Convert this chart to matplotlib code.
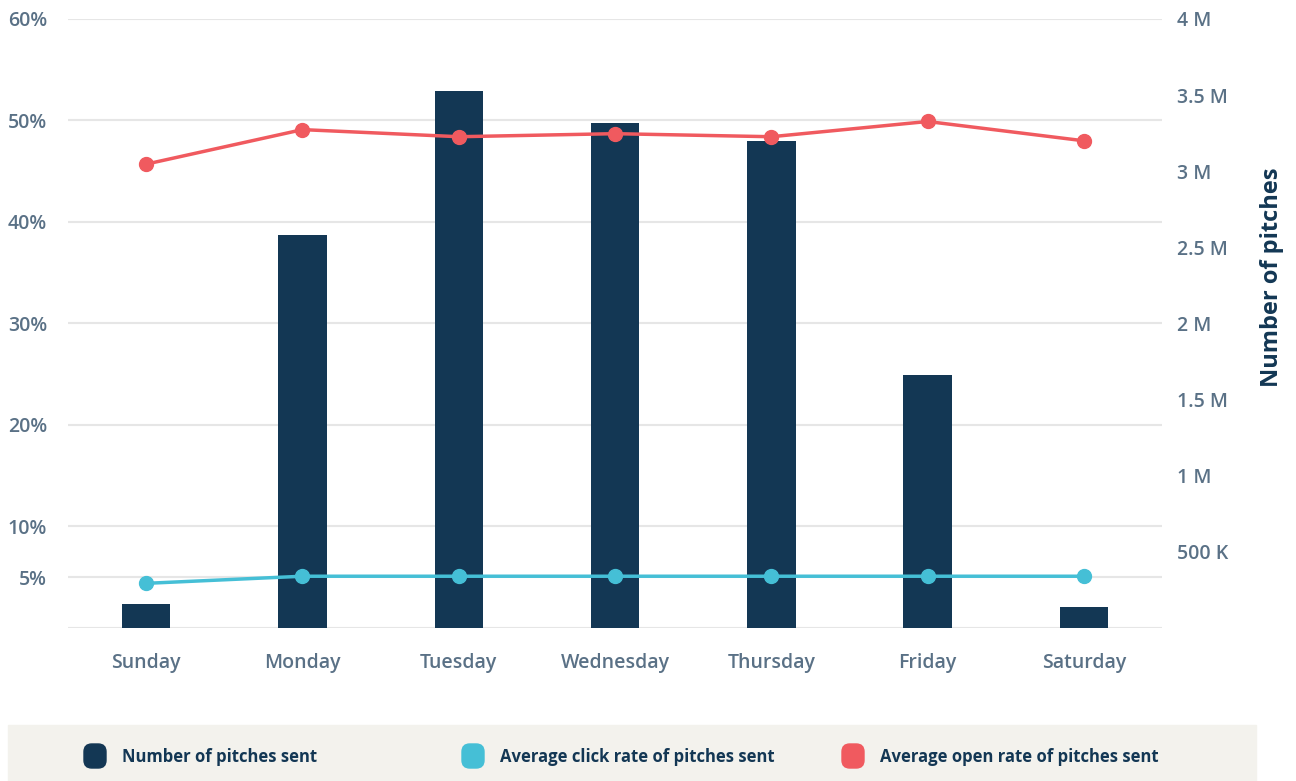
import matplotlib
matplotlib.use("Agg")
import matplotlib.pyplot as plt
from matplotlib.patches import FancyBboxPatch, Rectangle
from matplotlib.ticker import FuncFormatter

days = ["Sunday", "Monday", "Tuesday", "Wednesday", "Thursday", "Friday", "Saturday"]
pitches_sent = [0.16e6, 2.58e6, 3.53e6, 3.32e6, 3.20e6, 1.66e6, 0.14e6]
click_rate = [4.4, 5.1, 5.1, 5.1, 5.1, 5.1, 5.1]
open_rate = [45.7, 49.1, 48.4, 48.7, 48.4, 49.9, 48.0]

left_ticks = [5, 10, 20, 30, 40, 50, 60]
right_ticks = [0.5e6, 1e6, 1.5e6, 2e6, 2.5e6, 3e6, 3.5e6, 4e6]
legend_labels = ["Number of pitches sent", "Average click rate of pitches sent",
                 "Average open rate of pitches sent"]

navy = "#133754"
cyan = "#45bfd6"
red = "#f05a5f"
slate = "#5a7186"
grid_c = "#e6e6e6"

plt.rcParams['font.family'] = ['Open Sans', 'DejaVu Sans']

fig = plt.figure(figsize=(12.96, 7.81), dpi=100)
ax = fig.add_axes([0.0525, 0.1959, 0.8441, 0.7798])
ax2 = ax.twinx()

x = range(len(days))

# gridlines follow the left (percent) axis, drawn behind the bars
for t in left_ticks:
    ax.axhline(t / 60 * 4e6, color=grid_c, lw=1.5, zorder=0)
ax.axhline(0, color=grid_c, lw=1.5, zorder=0)

bars = ax.bar(x, pitches_sent, width=0.31, color=navy, zorder=2)
ax.set_ylim(0, 4e6)
ax.set_xlim(-0.5, 6.5)
ax.yaxis.tick_right()
ax.yaxis.set_label_position("right")
ax.set_yticks(right_ticks)
ax.yaxis.set_major_formatter(FuncFormatter(
    lambda v, p: "500 K" if v < 1e6 else ("%g M" % (v / 1e6))))
ax.set_ylabel("Number of pitches", fontsize=17, fontweight="bold", color=navy)
ax.yaxis.set_label_coords(1.09, 0.576)

ax.set_xticks(list(x))
ax.set_xticklabels(days)

ax2.yaxis.tick_left()
ax2.plot(x, open_rate, color=red, lw=2.5, marker="o", markersize=10, zorder=3)
ax2.plot(x, click_rate, color=cyan, lw=2.5, marker="o", markersize=10, zorder=3)
ax2.set_ylim(0, 60)
ax2.set_yticks(left_ticks)
ax2.set_yticklabels(["%d%%" % t for t in left_ticks])

for a in (ax, ax2):
    for s in a.spines.values():
        s.set_visible(False)
    a.tick_params(length=0, labelsize=14, labelcolor=slate)
ax.tick_params(axis="x", pad=18)
ax.tick_params(axis="y", pad=11)
ax2.tick_params(axis="y", pad=15)
for lbl in ax.get_xticklabels() + ax.get_yticklabels() + ax2.get_yticklabels():
    lbl.set_fontweight("semibold")

# legend strip
fig.patches.append(Rectangle((8 / 1296, 0), 1248 / 1296, 56 / 781,
                             transform=fig.transFigure, color="#f3f2ed", zorder=0))
mark_x = [84, 462, 842]
for mx, lbl, c in zip(mark_x, legend_labels, [navy, cyan, red]):
    fig.patches.append(FancyBboxPatch((mx / 1296, 13 / 781), 22 / 1296, 24 / 781,
                                      boxstyle="round,pad=0,rounding_size=0.006",
                                      transform=fig.transFigure, color=c,
                                      mutation_aspect=1296 / 781))
    fig.text((mx + 38) / 1296, 24 / 781, lbl, fontsize=12, fontweight="bold",
             color=navy, va="center", ha="left")

fig.savefig("out.png", dpi=100)
